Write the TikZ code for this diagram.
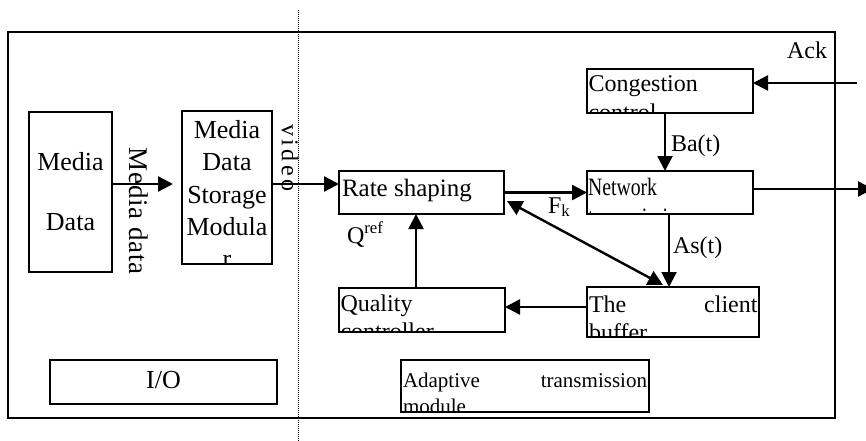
\documentclass[tikz,border=0pt]{standalone}
\usepackage{fontspec}
\setmainfont{Liberation Serif}
\newfontfamily\narrowserif[FakeStretch=0.79]{Liberation Serif}
\newfontfamily\spacedserif[LetterSpace=3]{Liberation Serif}
\newfontfamily\widespaced[LetterSpace=14]{Liberation Serif}
\usetikzlibrary{arrows.meta}
\newcommand\setsz[1]{\fontsize{#1}{#1}\selectfont}

\begin{document}
\begin{tikzpicture}[x=1pt,y=-1pt,
  box/.style={draw, line width=1.5pt, inner sep=0pt, outer sep=0pt},
  txt/.style={inner sep=0pt, outer sep=0pt, font=\setsz{24}},
  arr/.style={-{Triangle[length=15pt,width=15pt]}, line width=2.4pt},
  darr/.style={{Triangle[length=15pt,width=15pt]}-{Triangle[length=15pt,width=15pt]}, line width=2.4pt}]
\useasboundingbox (0,0) rectangle (866,441);

% frame and separator
\node[box, line width=1.8pt, minimum width=827pt, minimum height=386pt] (frame) at (421.5,225) {};
\coordinate (septop) at (298,10);
\coordinate (sepbot) at (298,441);
\draw[line width=1pt, dash pattern=on 1pt off 1pt] (septop) -- (sepbot);

% I/O side
\node[box, minimum width=83pt, minimum height=160pt] (md) at (70.5,192) {};
\node[txt, anchor=base, font=\setsz{26}] (mdA) at (70.5,170) {Media};
\node[txt, anchor=base, font=\setsz{26}] (mdB) at (70.5,230) {Data};

\node[box, minimum width=90pt, minimum height=153pt] (store) at (227,187.5) {};
\begin{scope}
  \clip (store.north west) rectangle (store.south east);
  \node[txt, anchor=base, font=\setsz{26}] (stA) at (227,138) {Media};
  \node[txt, anchor=base, font=\setsz{26}] (stB) at (227,170) {Data};
  \node[txt, anchor=base, font=\setsz{26}] (stC) at (227,203) {Storage};
  \node[txt, anchor=base, font=\setsz{26}] (stD) at (227,235) {Modula};
  \node[txt, anchor=base, font=\setsz{26}] (stE) at (227,267) {r};
\end{scope}

\node[box, minimum width=227pt, minimum height=44pt] (io) at (163.5,382) {};
\node[txt, anchor=base, font=\setsz{26}] (ioT) at (163.5,388) {I/O};

\node[txt, rotate=-90, font=\spacedserif\setsz{27}] (mdlabel) at (139,211) {Media data};
\node[txt, rotate=-90, font=\widespaced\setsz{24}] (vidlabel) at (290,158) {video};

% adaptive transmission side
\node[box, minimum width=165pt, minimum height=43pt] (rate) at (421.5,192.5) {};
\node[txt, anchor=base west, font=\setsz{25}] (rateT) at (342,196) {Rate shaping};

\node[box, minimum width=166pt, minimum height=44pt] (cong) at (670,91) {};
\begin{scope}
  \clip (cong.north west) rectangle (cong.south east);
  \node[txt, anchor=base west] (congA) at (588.5,92) {Congestion};
  \node[txt, anchor=base west] (congB) at (588.5,120.5) {control};
\end{scope}

\node[box, minimum width=166pt, minimum height=43pt] (net) at (670,192.5) {};
\begin{scope}
  \clip (net.north west) rectangle (net.south east);
  \node[txt, anchor=base west, font=\narrowserif\setsz{25}] (netA) at (588,195.5) {Network};
  \node[txt, anchor=base west, font=\narrowserif\setsz{25}] (netB) at (588,225) {transmission};
\end{scope}

\node[box, minimum width=172pt, minimum height=50pt] (client) at (673,312) {};
\begin{scope}
  \clip (client.north west) rectangle (client.south east);
  \node[txt, anchor=base west] (clA) at (589,312) {The};
  \node[txt, anchor=base east] (clB) at (757.5,312) {client};
  \node[txt, anchor=base west] (clC) at (589,340) {buffer};
\end{scope}

\node[box, minimum width=166pt, minimum height=44pt] (qual) at (422,310) {};
\begin{scope}
  \clip (qual.north west) rectangle (qual.south east);
  \node[txt, anchor=base west] (quA) at (340.5,311) {Quality};
  \node[txt, anchor=base west] (quB) at (340.5,339.5) {controller};
\end{scope}

\node[box, minimum width=248pt, minimum height=52pt] (adapt) at (525,386) {};
\begin{scope}
  \clip (adapt.north west) rectangle (adapt.south east);
  \node[txt, anchor=base west, font=\setsz{21}] (adA) at (403,387) {Adaptive};
  \node[txt, anchor=base east, font=\setsz{21}] (adB) at (647,387) {transmission};
  \node[txt, anchor=base west, font=\setsz{21}] (adC) at (403,413) {module};
\end{scope}

% connectors
\draw[arr] ([yshift=8pt]md.east) -- ([xshift=-9pt,yshift=3.5pt]store.west);
\draw[arr] ([yshift=3.5pt]store.east) -- ([yshift=8.5pt]rate.west);
\draw[arr] (rate.east) -- (net.west);
\draw[arr] ([xshift=-5pt]cong.south) -- ([xshift=-5pt]net.north);
\coordinate (ackin) at (857,83);
\draw[arr] (ackin) -- ([yshift=8pt]cong.east);
\coordinate (netout) at (873,189);
\draw[arr] ([yshift=3.5pt]net.east) -- (netout);
\draw[arr] ([xshift=-1pt]net.south) -- ([xshift=-4pt]client.north);
\draw[darr] ([xshift=3pt,yshift=-8.5pt]rate.east) -- ([xshift=-10pt,yshift=2pt]client.north);
\draw[arr] ([yshift=5pt]client.west) -- ([yshift=3pt]qual.east);
\draw[arr] ([xshift=-6pt]qual.north) -- ([xshift=-5.5pt]rate.south);

% connector labels
\node[txt, anchor=base east, font=\setsz{24}] (ack) at (827,59) {Ack};
\node[txt, anchor=base west, font=\setsz{24}] (ba) at (671,151) {Ba(t)};
\node[txt, anchor=base west, font=\setsz{24}] (as) at (673,253) {As(t)};
\node[txt, anchor=base west] (fk) at (548,213) {F\textsubscript{k}};
\node[txt, anchor=base west] (qref) at (347,243) {Q\textsuperscript{ref}};
\end{tikzpicture}
\end{document}
